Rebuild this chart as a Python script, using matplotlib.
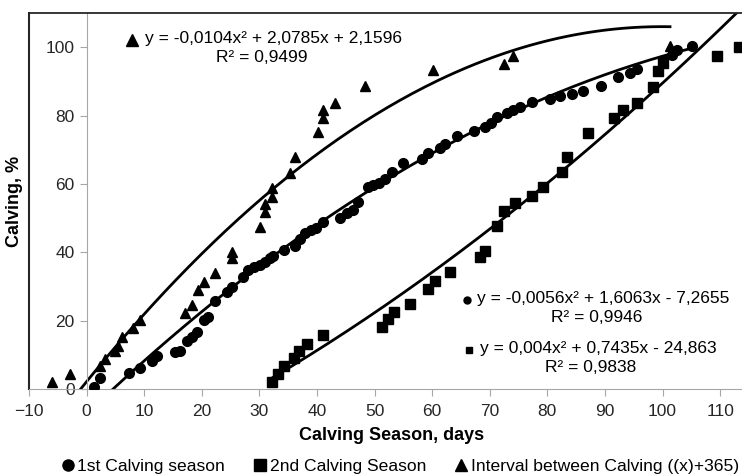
import numpy as np
import matplotlib
matplotlib.use("Agg")
import matplotlib.pyplot as plt
from matplotlib.lines import Line2D

plt.rcParams["font.family"] = ["Liberation Sans", "DejaVu Sans"]

# 1st calving season (circles)
first_x = [1.2, 2.3, 7.3, 9.3, 11.3, 12.2, 15.4, 16.2, 17.4, 18.3, 19.1, 20.3, 21.1, 22.3, 24.3, 25.2,
           27.2, 28.1, 29.0, 30.1, 31.0, 31.9, 32.4, 34.2, 36.2, 37.1, 38.0, 39.0, 39.8, 41.1, 44.0,
           45.2, 46.3, 47.2, 48.9, 49.8, 50.7, 51.8, 53.0, 55.0, 58.2, 59.3, 61.4, 62.2, 64.3, 67.2,
           69.2, 70.3, 71.2, 73.0, 74.1, 75.3, 77.3, 80.5, 82.2, 84.2, 86.2, 89.4, 92.3, 94.4, 95.5,
           100.1, 101.6, 102.5, 105.1]
first_y = [0.7, 3.2, 4.8, 6.2, 8.2, 9.7, 10.9, 11.2, 14.1, 15.3, 16.8, 20.2, 21.2, 25.6, 28.5, 29.8,
           32.9, 34.8, 35.6, 36.3, 37.3, 38.3, 38.9, 40.7, 41.7, 43.9, 45.6, 46.6, 47.1, 48.8, 50.0,
           51.4, 52.4, 54.8, 59.2, 59.7, 60.2, 61.5, 63.6, 66.1, 67.3, 69.0, 70.5, 71.7, 74.1, 75.6,
           76.6, 77.8, 79.7, 80.7, 81.7, 82.5, 84.1, 84.8, 85.8, 86.4, 87.1, 88.7, 91.3, 92.4, 93.6,
           96.3, 97.8, 99.1, 100.2]

# 2nd calving season (squares)
second_x = [32.2, 33.3, 34.2, 36.0, 36.9, 38.2, 41.1, 51.3, 52.4, 53.3, 56.2, 59.3, 60.5, 63.1, 68.3,
            69.2, 71.2, 72.4, 74.4, 77.3, 79.3, 82.5, 83.4, 87.1, 91.5, 93.2, 95.5, 98.4, 99.3, 100.1,
            109.4, 113.2]
second_y = [2.1, 4.5, 6.6, 9.0, 11.0, 13.3, 15.9, 18.2, 20.4, 22.6, 24.8, 29.2, 31.7, 34.1, 38.6,
            40.5, 47.6, 52.2, 54.4, 56.5, 59.1, 63.6, 68.0, 74.9, 79.3, 81.7, 83.8, 88.3, 93.0, 95.4,
            97.3, 100.0]

# interval between calving (triangles)
interval_x = [-6.0, -2.9, 2.3, 3.2, 4.9, 5.5, 6.1, 8.1, 9.3, 17.1, 18.3, 19.4, 20.3, 22.3, 25.2, 25.2,
              30.1, 31.0, 31.0, 32.2, 32.2, 35.3, 36.2, 40.2, 41.1, 41.1, 43.1, 48.4, 60.2, 72.4, 74.1,
              101.3]
interval_y = [2.1, 4.5, 6.7, 8.7, 11.0, 12.5, 15.3, 17.8, 20.2, 22.2, 24.6, 29.0, 31.4, 33.9, 38.3, 40.2,
              47.5, 51.9, 54.2, 56.3, 58.8, 63.3, 68.0, 75.1, 79.3, 81.5, 83.7, 88.5, 93.2, 95.2, 97.3,
              100.2]

# trendline coefficients (a, b, c) as printed on the chart
first_coef = [-0.0056, 1.6063, -7.2655]
second_coef = [0.004, 0.7435, -24.863]
interval_coef = [-0.0104, 2.0785, 2.1596]

fig = plt.figure(figsize=(7.42, 4.76), dpi=100)
ax = fig.add_axes([29 / 742, 87 / 476, 713 / 742, 376 / 476])

ax.plot(first_x, first_y, "o", color="black", markersize=7, zorder=3)
ax.plot(second_x, second_y, "s", color="black", markersize=7, zorder=3)
ax.plot(interval_x, interval_y, "^", color="black", markersize=7.5, zorder=3)

for xs, coef in [(first_x, first_coef), (second_x, second_coef), (interval_x, interval_coef)]:
    xx = np.linspace(min(xs), max(xs), 200)
    ax.plot(xx, np.polyval(coef, xx), color="black", lw=2, zorder=2)

ax.set_xlim(-10, 113.8)
ax.set_ylim(0, 110)
ax.set_xticks(range(-10, 111, 10))
ax.set_yticks(range(0, 101, 20))

grey = "#a6a6a6"
ax.spines["left"].set_position(("data", 0))
ax.spines["left"].set_color(grey)
ax.spines["bottom"].set_color(grey)
ax.spines["right"].set_visible(False)
ax.spines["top"].set_color("#262626")
ax.spines["top"].set_linewidth(1.3)
ax.plot([0, 0], [0, 1], transform=ax.transAxes, color="#262626", lw=1.5, clip_on=False)
ax.tick_params(direction="out", length=5, color=grey, labelsize=12.5, labelcolor="#262626")
ax.tick_params(axis="x", pad=5.5)

fig.text(15 / 742, 1 - 201 / 476, "Calving, %", rotation=90, ha="center", va="center",
         fontsize=13, fontweight="bold")
fig.text(392 / 742, 1 - 436 / 476, "Calving Season, days", ha="center", va="center",
         fontsize=13, fontweight="bold")


def px(x, y):
    return x / 742, 1 - y / 476


# trendline equations with their small key symbols
eqs = [
    ("^", 9, (132, 40), (145, 39), "y = -0,0104x² + 2,0785x + 2,1596", (262, 57), "R² = 0,9499"),
    ("o", 5, (467, 300), (477, 299), "y = -0,0056x² + 1,6063x - 7,2655", (597, 318), "R² = 0,9946"),
    ("s", 5, (469, 350), (480, 348), "y = 0,004x² + 0,7435x - 24,863", (591, 367), "R² = 0,9838"),
]
for marker, size, kpos, tpos, eq, rpos, r2 in eqs:
    fig.add_artist(Line2D([kpos[0] / 742], [1 - kpos[1] / 476], marker=marker, markersize=size,
                          color="black", ls="none", transform=fig.transFigure))
    fig.text(*px(*tpos), eq, ha="left", va="center", fontsize=12.5)
    fig.text(*px(*rpos), r2, ha="center", va="center", fontsize=12.5)

handles = [Line2D([], [], ls="none", marker=m, color="black", markersize=8) for m in ["o", "s", "^"]]
labels = ["1st Calving season", "2nd Calving Season", "Interval between Calving ((x)+365)"]
fig.legend(handles, labels, loc="center", bbox_to_anchor=(400 / 742, 1 - 466 / 476), ncol=3,
           frameon=False, fontsize=12.6, handlelength=0.8, handletextpad=0.15, columnspacing=1.6,
           borderpad=0)

fig.savefig("out.png", dpi=100)
